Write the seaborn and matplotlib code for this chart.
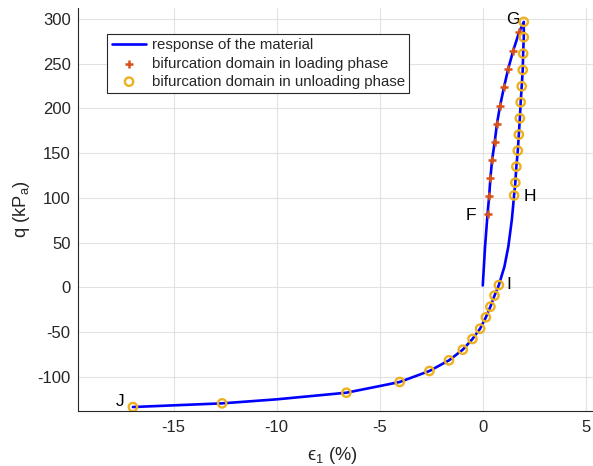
import matplotlib
matplotlib.use("Agg")
import matplotlib.pyplot as plt
import seaborn as sns
import numpy as np

# ---- data ----
# material response path: loading branch (start -> G) then unloading branch (G -> J)
curve_eps = [0.0, 0.11, 0.23, 0.31, 0.37, 0.45, 0.58, 0.69, 0.84, 1.03, 1.23, 1.47, 1.76, 1.99,
             1.99, 1.96, 1.94, 1.89, 1.84, 1.80, 1.75, 1.70, 1.63, 1.58, 1.52,
             1.41, 1.24, 1.05, 0.78, 0.57, 0.37, 0.15, -0.13, -0.50, -0.97, -1.64, -2.59,
             -4.03, -4.99, -6.62, -10.0, -12.65, -16.98]
curve_q = [2.0, 45.0, 81.6, 101.6, 121.9, 142.0, 162.5, 183.0, 203.0, 223.7, 243.8, 264.0, 285.0, 296.8,
           279.6, 261.3, 243.0, 224.8, 206.9, 189.0, 170.7, 152.8, 134.9, 117.0, 102.7,
           75.3, 45.4, 23.0, 2.5, -9.3, -21.7, -33.6, -46.3, -57.8, -69.8, -81.7, -93.6,
           -105.9, -110.4, -117.9, -125.3, -129.8, -133.9]

load_eps = [0.23, 0.31, 0.37, 0.45, 0.58, 0.69, 0.84, 1.03, 1.23, 1.47, 1.76]
load_q = [81.6, 101.6, 121.9, 142.0, 162.5, 183.0, 203.0, 223.7, 243.8, 264.0, 285.0]

unload_eps = [1.99, 1.99, 1.96, 1.94, 1.89, 1.84, 1.80, 1.75, 1.70, 1.63, 1.58, 1.52,
              0.78, 0.57, 0.37, 0.15, -0.13, -0.50, -0.97, -1.64, -2.59, -4.03, -6.62, -12.65, -16.98]
unload_q = [296.8, 279.6, 261.3, 243.0, 224.8, 206.9, 189.0, 170.7, 152.8, 134.9, 117.0, 102.7,
            2.5, -9.3, -21.7, -33.6, -46.3, -57.8, -69.8, -81.7, -93.6, -105.9, -117.9, -129.8, -133.9]

point_labels = ["G", "F", "H", "I", "J"]
label_eps = [1.47, -0.56, 2.28, 1.26, -17.59]
label_q = [299.3, 80.0, 101.2, 2.6, -127.2]

x_ticks = [-15, -10, -5, 0, 5]
y_ticks = [-100, -50, 0, 50, 100, 150, 200, 250, 300]

# ---- style ----
sns.set_theme(style="whitegrid")
plt.rcParams["font.family"] = ["Liberation Sans", "DejaVu Sans"]
plt.rcParams["mathtext.fontset"] = "custom"
plt.rcParams["mathtext.rm"] = "Liberation Sans"
plt.rcParams["mathtext.it"] = "Liberation Sans:italic"
plt.rcParams["axes.unicode_minus"] = False
dark = "#262626"

fig = plt.figure(figsize=(5.93, 4.66), dpi=100)
ax = fig.add_axes([0.131, 0.1187, 0.869, 0.8643])

sns.lineplot(x=curve_eps, y=curve_q, sort=False, estimator=None, color="blue",
             linewidth=1.9, ax=ax, label="response of the material", zorder=2)
sns.scatterplot(x=load_eps, y=load_q, marker="+", color="#D95319", s=30, linewidth=1.8,
                ax=ax, label="bifurcation domain in loading phase", zorder=3)
sns.scatterplot(x=unload_eps, y=unload_q, marker="o", s=36, facecolors="none",
                edgecolors="#EDB120", linewidths=1.7,
                ax=ax, label="bifurcation domain in unloading phase", zorder=4)

for t, ex, qy in zip(point_labels, label_eps, label_q):
    ax.text(ex, qy, t, ha="center", va="center", fontsize=12.5, color="black")

ax.set_xlim(-19.66, 5.35)
ax.set_ylim(-138, 312.4)
ax.set_xticks(x_ticks)
ax.set_yticks(y_ticks)

ax.grid(True, color="#e2e2e2", linewidth=0.8)
ax.set_axisbelow(True)
for s in ["top", "right"]:
    ax.spines[s].set_visible(False)
for s in ["left", "bottom"]:
    ax.spines[s].set_color(dark)
    ax.spines[s].set_linewidth(0.8)
ax.tick_params(axis="both", direction="in", length=4, width=0.8, color=dark,
               labelcolor=dark, labelsize=12)
ax.tick_params(axis="x", pad=7)
ax.tick_params(axis="y", pad=5)

ax.set_xlabel("ϵ$_{1}$ (%)", fontsize=13.2, color=dark)
ax.set_ylabel("q (kP$_\\mathrm{a}$)", fontsize=13.2, color=dark)
ax.xaxis.set_label_coords(0.4935, -0.086)
ax.yaxis.set_label_coords(-0.089, 0.5)

leg = ax.legend(loc="upper left", bbox_to_anchor=(107.3 / 593, 1 - 34 / 466),
                bbox_transform=fig.transFigure, borderaxespad=0, fontsize=10.8,
                frameon=True, fancybox=False, framealpha=1, edgecolor=dark,
                handlelength=2.3, handletextpad=0.35, labelspacing=0.27, borderpad=0.3)
leg.get_frame().set_linewidth(0.8)
for txt in leg.get_texts():
    txt.set_color(dark)

fig.savefig("out.png", dpi=100)
